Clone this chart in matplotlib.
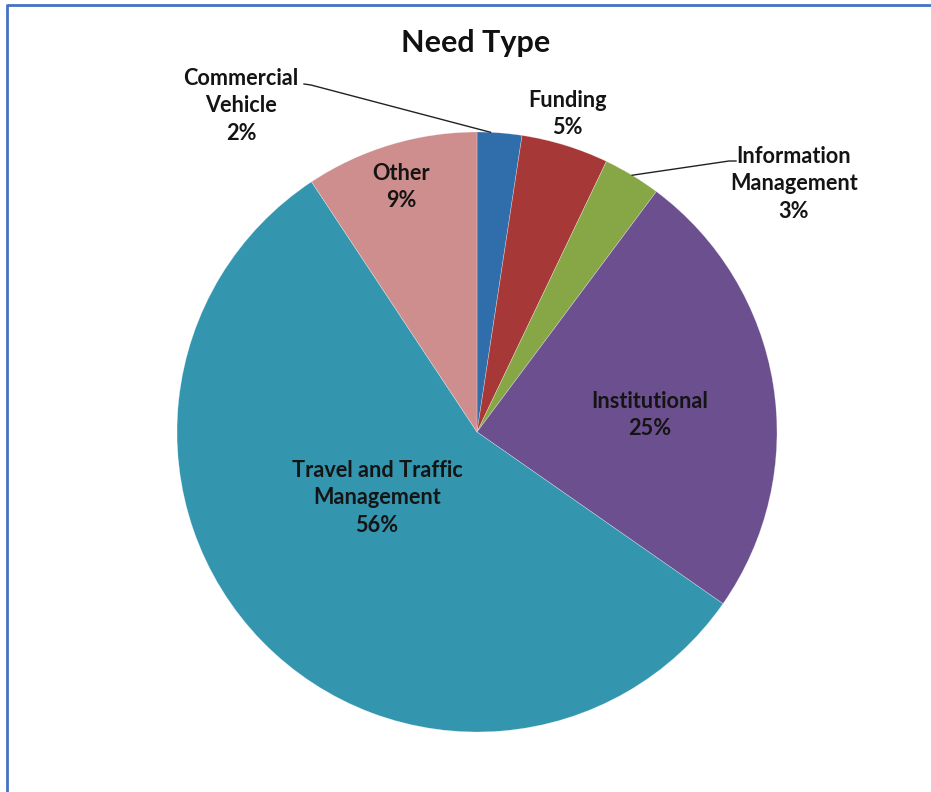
import matplotlib
matplotlib.use("Agg")
import matplotlib.pyplot as plt
import numpy as np

plt.rcParams['font.family'] = ['Lato', 'DejaVu Sans']

title = "Need Type"
categories = ["Commercial\nVehicle", "Funding", "Information\nManagement",
              "Institutional", "Travel and Traffic\nManagement", "Other"]
values = [2.4, 4.7, 3.1, 24.5, 56.0, 9.3]
pct_labels = ["2%", "5%", "3%", "25%", "56%", "9%"]
colors = ["#2F6EAB", "#A63937", "#87A746", "#6B4F8F", "#3395AE", "#CE8E8D"]

W, H = 931, 792
fig = plt.figure(figsize=(W / 100, H / 100), dpi=100)
ax = fig.add_axes([0, 0, 1, 1])

cx, cy, R = 477, H - 432, 300
wedges, _ = ax.pie(values, colors=colors, startangle=90, counterclock=False,
                   radius=R, center=(cx, cy), frame=True,
                   wedgeprops=dict(edgecolor=(1, 1, 1, 0.45), linewidth=0.4))
ax.set_xlim(0, W)
ax.set_ylim(0, H)
ax.set_aspect('equal')
ax.axis('off')

# label positions (pixel coords from top-left), layout only
label_pos = {
    0: (241, 106),
    1: (567, 114),
    2: (794, 184),
    3: (650, 415),
    4: (377, 498),
    5: (401, 187),
}
fs = 15.6
for i, (lx, ly) in label_pos.items():
    ax.text(lx, H - ly, f"{categories[i]}\n{pct_labels[i]}", ha="center", va="center",
            fontsize=fs, fontweight="bold", color="#141414", linespacing=1.38)

# leader lines from wedge edge to outside labels
def edge_point(w, frac=0.5):
    a = np.deg2rad(w.theta1 + (w.theta2 - w.theta1) * frac)
    return cx + R * np.cos(a), cy + R * np.sin(a)

ex, ey = edge_point(wedges[0], 0.7)
ax.plot([304, 311, ex], [H - 84, H - 85, ey], color="#222222", lw=1.0)
ex, ey = edge_point(wedges[2], 0.5)
ax.plot([ex, 729, 736], [ey, H - 161, H - 161], color="#222222", lw=1.0)

ax.text(476, H - 43, title, ha="center", va="center", fontsize=22,
        fontweight="bold", color="#111111")

# blue border on top and left
ax.plot([7, 7], [0, H - 4], color="#4472C4", lw=2, solid_capstyle="butt")
ax.plot([7, W], [H - 5, H - 5], color="#4472C4", lw=2, solid_capstyle="butt")

fig.savefig("out.png", dpi=100)
